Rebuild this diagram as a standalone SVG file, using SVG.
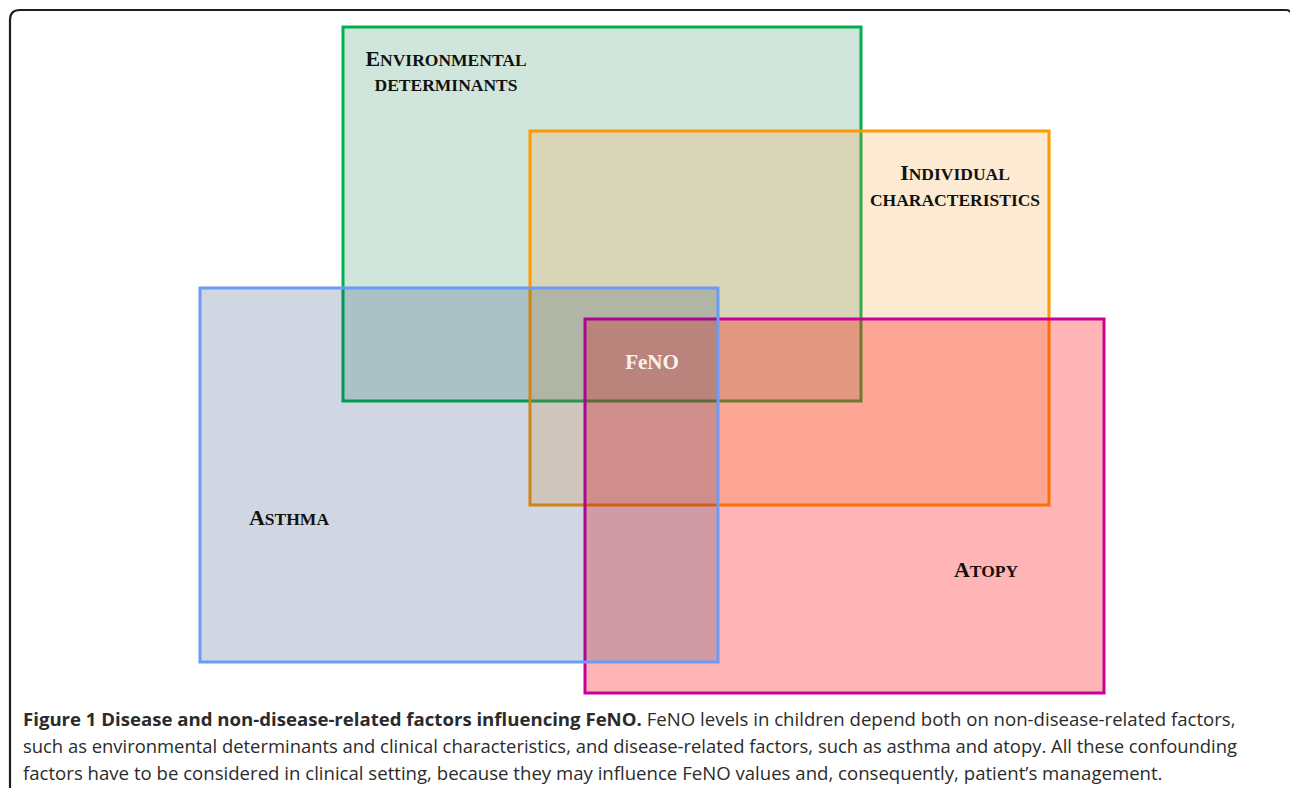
<svg xmlns="http://www.w3.org/2000/svg" width="1290" height="788" viewBox="0 0 1290 788">
<style>
.frame{fill:none;stroke:#1e1e1e;stroke-width:2.2}
.lbl{font-family:"Liberation Serif","Times New Roman",serif;font-weight:bold;fill:#111;text-anchor:middle}
.big{font-size:22px}
.sm{font-size:17.5px}
.cap{font-family:"Open Sans","Noto Sans",sans-serif;font-size:18.6px;fill:#2b2b2b}
.capb{font-weight:bold}
</style>
<rect x="0" y="0" width="1290" height="788" fill="#fff"/>
<path class="frame" d="M10,790 L10,20 Q10,10 20,10 L1286,10 Q1289,10 1290,12"/>
<g id="environmental">
<rect x="343" y="27" width="518" height="374" fill="rgb(20,130,80)" fill-opacity="0.2" stroke="#00b050" stroke-width="3"/>
</g>
<g id="individual">
<rect x="530" y="131" width="519" height="374" fill="rgb(245,158,42)" fill-opacity="0.21" stroke="#ff9900" stroke-width="3"/>
</g>
<g id="atopy">
<rect x="585" y="319" width="519" height="374" fill="#ff0000" fill-opacity="0.29" stroke="#cc0099" stroke-width="3"/>
</g>
<g id="asthma">
<rect x="200" y="288" width="518" height="374" fill="rgb(8,45,102)" fill-opacity="0.19" stroke="#6b9bf5" stroke-width="3"/>
</g>
<g id="labels">
<text class="lbl" x="446" y="66"><tspan class="big">E</tspan><tspan class="sm">NVIRONMENTAL</tspan></text>
<text class="lbl sm" x="446" y="91">DETERMINANTS</text>
<text class="lbl" x="955" y="180"><tspan class="big">I</tspan><tspan class="sm">NDIVIDUAL</tspan></text>
<text class="lbl sm" x="955" y="206">CHARACTERISTICS</text>
<text class="lbl" x="652" y="369" style="font-size:21px;fill:#f8f2f0">FeNO</text>
<text class="lbl" x="289" y="525"><tspan class="big">A</tspan><tspan class="sm">STHMA</tspan></text>
<text class="lbl" x="986" y="577"><tspan class="big">A</tspan><tspan class="sm">TOPY</tspan></text>
</g>
<g id="caption">
<text class="cap" x="23" y="726"><tspan class="capb">Figure 1 Disease and non-disease-related factors influencing FeNO.</tspan> FeNO levels in children depend both on non-disease-related factors,</text>
<text class="cap" x="23" y="753" textLength="1214" lengthAdjust="spacingAndGlyphs">such as environmental determinants and clinical characteristics, and disease-related factors, such as asthma and atopy. All these confounding</text>
<text class="cap" x="23" y="780">factors have to be considered in clinical setting, because they may influence FeNO values and, consequently, patient’s management.</text>
</g>
</svg>
